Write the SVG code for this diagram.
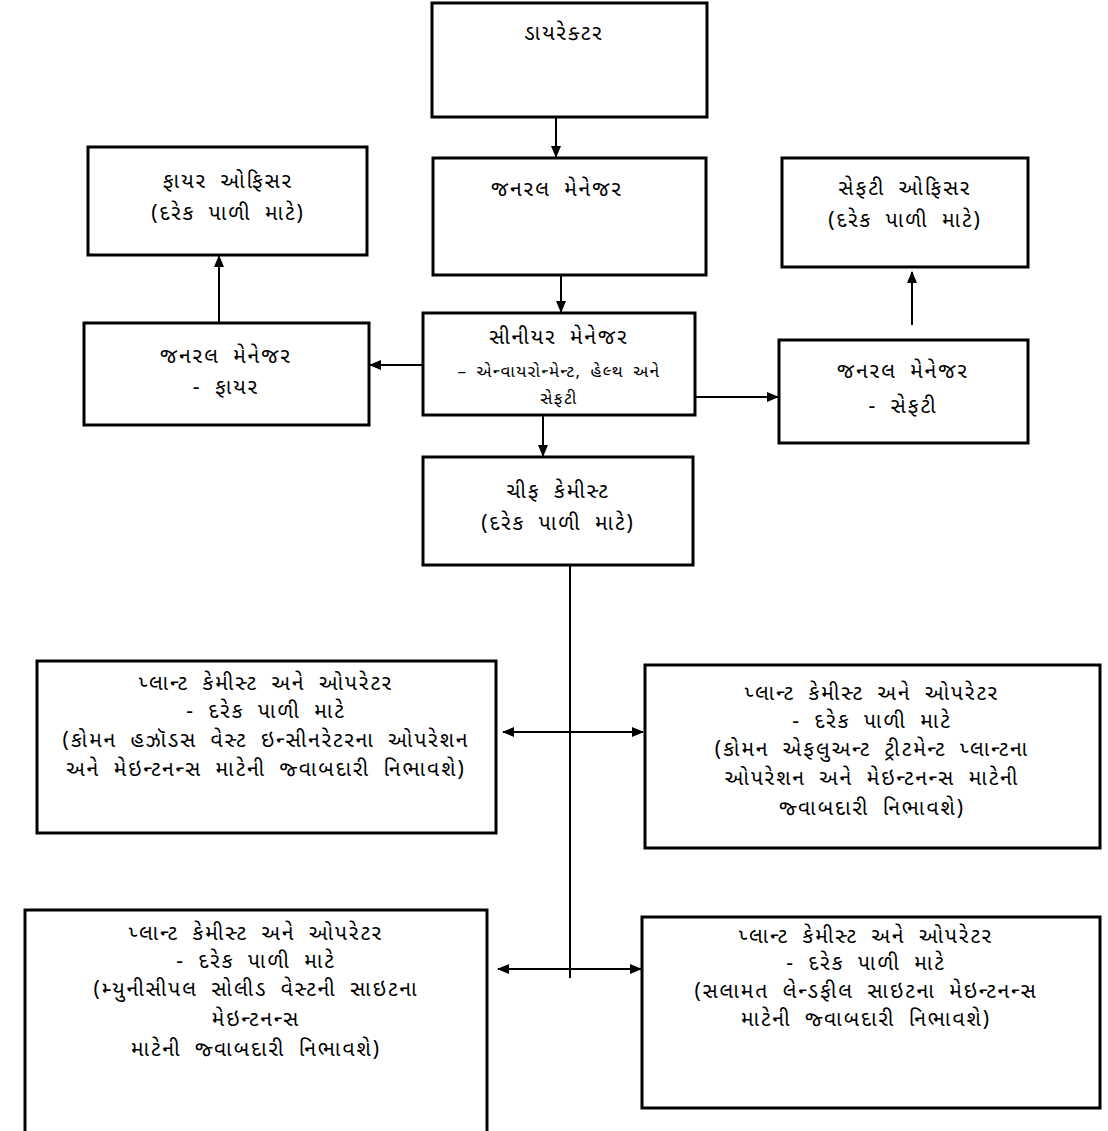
<svg xmlns="http://www.w3.org/2000/svg" width="1108" height="1131" viewBox="0 0 1108 1131">
<style>
.box{fill:#fff;stroke:#000;stroke-width:3}
.t{font-family:"Noto Sans Gujarati","Noto Serif Gujarati","Lohit Gujarati","Noto Sans",sans-serif;font-size:21px;letter-spacing:2px;word-spacing:6px;fill:#000;text-anchor:middle}
.s{font-size:17px;letter-spacing:1.5px;word-spacing:3px}
.c{stroke:#000;stroke-width:2;fill:none}
</style>
<defs>
<marker id="ah" viewBox="0 0 12 10" refX="11" refY="5" markerWidth="12" markerHeight="10" markerUnits="userSpaceOnUse" orient="auto-start-reverse">
<path d="M0,0 L12,5 L0,10 Z" fill="#000"/>
</marker>
</defs>
<rect width="1108" height="1131" fill="#fff"/>
<g id="connectors">
<line class="c" x1="556" y1="117" x2="556" y2="157" marker-end="url(#ah)"/>
<line class="c" x1="561" y1="275" x2="561" y2="312" marker-end="url(#ah)"/>
<line class="c" x1="543" y1="415" x2="543" y2="456" marker-end="url(#ah)"/>
<line class="c" x1="423" y1="365" x2="370" y2="365" marker-end="url(#ah)"/>
<line class="c" x1="695" y1="397" x2="778" y2="397" marker-end="url(#ah)"/>
<line class="c" x1="219" y1="323" x2="219" y2="256" marker-end="url(#ah)"/>
<line class="c" x1="912" y1="325" x2="912" y2="272" marker-end="url(#ah)"/>
<line class="c" x1="570" y1="565" x2="570" y2="978"/>
<line class="c" x1="503" y1="732" x2="643" y2="732" marker-start="url(#ah)" marker-end="url(#ah)"/>
<line class="c" x1="498" y1="969" x2="641" y2="969" marker-start="url(#ah)" marker-end="url(#ah)"/>
</g>
<g id="director">
<rect class="box" x="432" y="3" width="275" height="114"/>
<text class="t" x="564" y="40">ડાયરેક્ટર</text>
</g>
<g id="general-manager">
<rect class="box" x="433" y="158" width="273" height="117"/>
<text class="t" x="557" y="196">જનરલ મેનેજર</text>
</g>
<g id="fire-officer">
<rect class="box" x="88" y="147" width="279" height="108"/>
<text class="t" x="228" y="188">ફાયર ઓફિસર</text>
<text class="t" x="228" y="220">(દરેક પાળી માટે)</text>
</g>
<g id="gm-fire">
<rect class="box" x="84" y="323" width="285" height="102"/>
<text class="t" x="226" y="363">જનરલ મેનેજર</text>
<text class="t" x="226" y="394">- ફાયર</text>
</g>
<g id="safety-officer">
<rect class="box" x="782" y="158" width="246" height="109"/>
<text class="t" x="905" y="195">સેફટી ઓફિસર</text>
<text class="t" x="905" y="227">(દરેક પાળી માટે)</text>
</g>
<g id="gm-safety">
<rect class="box" x="779" y="340" width="249" height="103"/>
<text class="t" x="903" y="378">જનરલ મેનેજર</text>
<text class="t" x="903" y="413">- સેફટી</text>
</g>
<g id="senior-manager">
<rect class="box" x="423" y="313" width="272" height="102"/>
<text class="t" x="559" y="344">સીનીયર મેનેજર</text>
<text class="t s" x="559" y="377">– એન્વાયરોન્મેન્ટ, હેલ્થ અને</text>
<text class="t s" x="559" y="404">સેફટી</text>
</g>
<g id="chief-chemist">
<rect class="box" x="423" y="457" width="270" height="108"/>
<text class="t" x="558" y="498">ચીફ કેમીસ્ટ</text>
<text class="t" x="558" y="530">(દરેક પાળી માટે)</text>
</g>
<g id="plant-chemist-1">
<rect class="box" x="37" y="661" width="459" height="172"/>
<text class="t" x="266" y="690">પ્લાન્ટ કેમીસ્ટ અને ઓપરેટર</text>
<text class="t" x="266" y="718">- દરેક પાળી માટે</text>
<text class="t" x="266" y="747">(કોમન હઝૉડસ વેસ્ટ ઇન્સીનરેટરના ઓપરેશન</text>
<text class="t" x="266" y="776">અને મેઇન્ટનન્સ માટેની જ્વાબદારી નિભાવશે)</text>
</g>
<g id="plant-chemist-2">
<rect class="box" x="645" y="665" width="455" height="183"/>
<text class="t" x="872" y="700">પ્લાન્ટ કેમીસ્ટ અને ઓપરેટર</text>
<text class="t" x="872" y="728">- દરેક પાળી માટે</text>
<text class="t" x="872" y="756">(કોમન એફલુઅન્ટ ટ્રીટમેન્ટ પ્લાન્ટના</text>
<text class="t" x="872" y="785">ઓપરેશન અને મેઇન્ટનન્સ માટેની</text>
<text class="t" x="872" y="815">જ્વાબદારી નિભાવશે)</text>
</g>
<g id="plant-chemist-3">
<rect class="box" x="25" y="910" width="462" height="225"/>
<text class="t" x="256" y="940">પ્લાન્ટ કેમીસ્ટ અને ઓપરેટર</text>
<text class="t" x="256" y="968">- દરેક પાળી માટે</text>
<text class="t" x="256" y="996">(મ્યુનીસીપલ સોલીડ વેસ્ટની સાઇટના</text>
<text class="t" x="256" y="1026">મેઇન્ટનન્સ</text>
<text class="t" x="256" y="1056">માટેની જ્વાબદારી નિભાવશે)</text>
</g>
<g id="plant-chemist-4">
<rect class="box" x="642" y="917" width="458" height="191"/>
<text class="t" x="866" y="943">પ્લાન્ટ કેમીસ્ટ અને ઓપરેટર</text>
<text class="t" x="866" y="970">- દરેક પાળી માટે</text>
<text class="t" x="866" y="998">(સલામત લેન્ડફીલ સાઇટના મેઇન્ટનન્સ</text>
<text class="t" x="866" y="1026">માટેની જ્વાબદારી નિભાવશે)</text>
</g>
</svg>
